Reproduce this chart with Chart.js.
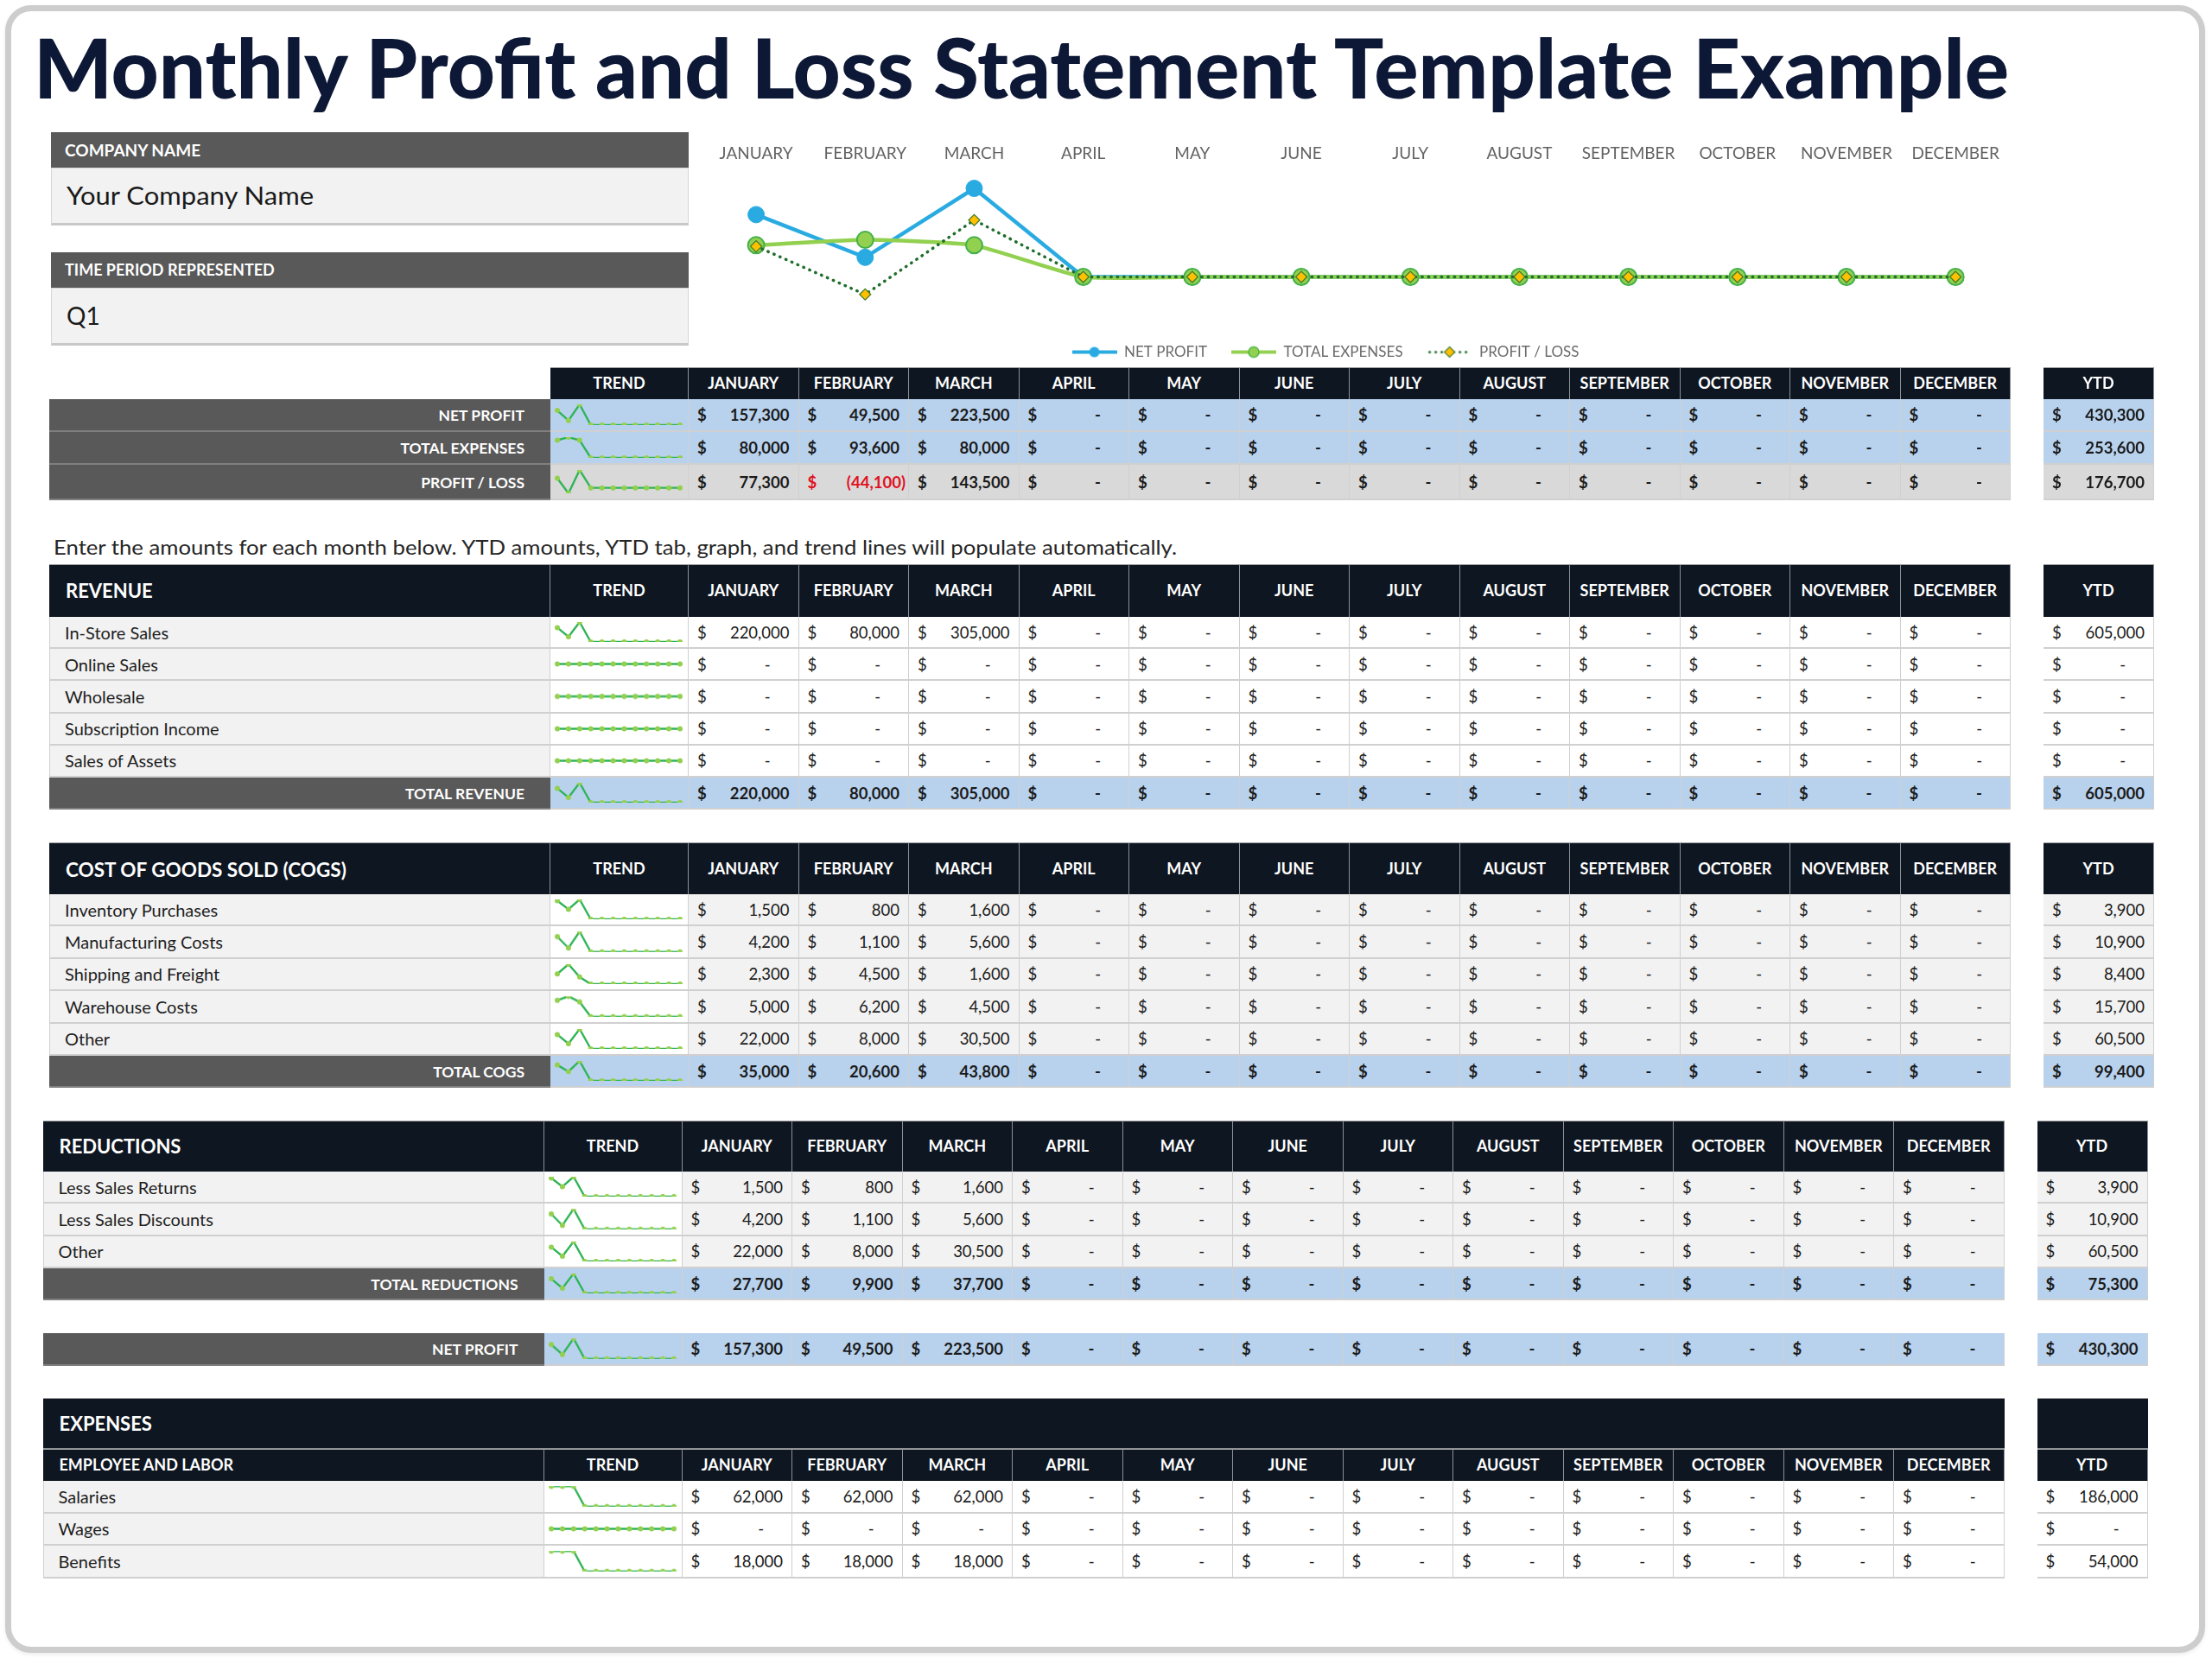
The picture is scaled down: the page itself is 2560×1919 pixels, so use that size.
<!DOCTYPE html>
<html><head><meta charset="utf-8">
<script src="https://cdn.jsdelivr.net/npm/chart.js@4.4.0/dist/chart.umd.min.js"></script>
<style>
html,body{margin:0;padding:0;background:#fff;}
#root{position:relative;width:2560px;height:1919px;overflow:hidden;font-family:Lato,'Open Sans',sans-serif;}
.t{position:absolute;white-space:nowrap;top:50%;transform:translateY(-50%);line-height:1.2;}
</style></head><body><div id="root"></div>
<script>
// ---------- DATA ----------
const MONTHS = ['JANUARY','FEBRUARY','MARCH','APRIL','MAY','JUNE','JULY','AUGUST','SEPTEMBER','OCTOBER','NOVEMBER','DECEMBER'];
const SERIES_NAMES = ['NET PROFIT','TOTAL EXPENSES','PROFIT / LOSS'];
const NET_PROFIT     = [157300, 49500, 223500, 0, 0, 0, 0, 0, 0, 0, 0, 0];
const TOTAL_EXPENSES = [80000, 93600, 80000, 0, 0, 0, 0, 0, 0, 0, 0, 0];
const PROFIT_LOSS    = [77300, -44100, 143500, 0, 0, 0, 0, 0, 0, 0, 0, 0];
const SUMMARY_YTD    = [430300, 253600, 176700];

const REV_LABELS = ['In-Store Sales','Online Sales','Wholesale','Subscription Income','Sales of Assets','TOTAL REVENUE'];
const REV_VALUES = [
  [220000, 80000, 305000, 0, 0, 0, 0, 0, 0, 0, 0, 0],
  [0, 0, 0, 0, 0, 0, 0, 0, 0, 0, 0, 0],
  [0, 0, 0, 0, 0, 0, 0, 0, 0, 0, 0, 0],
  [0, 0, 0, 0, 0, 0, 0, 0, 0, 0, 0, 0],
  [0, 0, 0, 0, 0, 0, 0, 0, 0, 0, 0, 0],
  [220000, 80000, 305000, 0, 0, 0, 0, 0, 0, 0, 0, 0]
];
const REV_YTD = [605000, 0, 0, 0, 0, 605000];

const COGS_LABELS = ['Inventory Purchases','Manufacturing Costs','Shipping and Freight','Warehouse Costs','Other','TOTAL COGS'];
const COGS_VALUES = [
  [1500, 800, 1600, 0, 0, 0, 0, 0, 0, 0, 0, 0],
  [4200, 1100, 5600, 0, 0, 0, 0, 0, 0, 0, 0, 0],
  [2300, 4500, 1600, 0, 0, 0, 0, 0, 0, 0, 0, 0],
  [5000, 6200, 4500, 0, 0, 0, 0, 0, 0, 0, 0, 0],
  [22000, 8000, 30500, 0, 0, 0, 0, 0, 0, 0, 0, 0],
  [35000, 20600, 43800, 0, 0, 0, 0, 0, 0, 0, 0, 0]
];
const COGS_YTD = [3900, 10900, 8400, 15700, 60500, 99400];

const RED_LABELS = ['Less Sales Returns','Less Sales Discounts','Other','TOTAL REDUCTIONS'];
const RED_VALUES = [
  [1500, 800, 1600, 0, 0, 0, 0, 0, 0, 0, 0, 0],
  [4200, 1100, 5600, 0, 0, 0, 0, 0, 0, 0, 0, 0],
  [22000, 8000, 30500, 0, 0, 0, 0, 0, 0, 0, 0, 0],
  [27700, 9900, 37700, 0, 0, 0, 0, 0, 0, 0, 0, 0]
];
const RED_YTD = [3900, 10900, 60500, 75300];

const NET_PROFIT_YTD = 430300;

const EMP_LABELS = ['Salaries','Wages','Benefits'];
const EMP_VALUES = [
  [62000, 62000, 62000, 0, 0, 0, 0, 0, 0, 0, 0, 0],
  [0, 0, 0, 0, 0, 0, 0, 0, 0, 0, 0, 0],
  [18000, 18000, 18000, 0, 0, 0, 0, 0, 0, 0, 0, 0]
];
const EMP_YTD = [186000, 0, 54000];

// ---------- STYLE ----------
const NAVY = '#0e1621', DGRAY = '#595959', BLUE = '#b8d2ee', LGRAY = '#f2f2f2', PGRAY = '#d9d9d9', LINE = '#d0d0d0';
const SPARK_LINE = '#30b458', SPARK_PT = '#94d04f';
const LBL_X = 57, LBL_W = 580, TR_X = 637, TR_W = 160, M_X = 797, M_W = 127.5, YTD_X = 2365, YTD_W = 128;

const root = document.getElementById('root');
function box(x, y, w, h, css){
  const d = document.createElement('div');
  d.style.cssText = `position:absolute;left:${x}px;top:${y}px;width:${w}px;height:${h}px;box-sizing:border-box;` + (css || '');
  root.appendChild(d); return d;
}
function text(parent, s, css){
  const e = document.createElement('span'); e.className = 't'; e.textContent = s;
  e.style.cssText = css || ''; parent.appendChild(e); return e;
}
function fit(el, w, base){
  const r = el.getBoundingClientRect().width;
  if (r > 0){ el.style.transformOrigin = 'left center'; el.style.transform = (base || '') + ` scaleX(${w / r})`; }
}
function fmt(v){ return v.toLocaleString('en-US'); }

function money(x, y, w, h, v, bold, bg){
  const c = box(x, y, w, h, `background:${bg};border-right:1px solid ${LINE};border-bottom:2px solid ${LINE};font-size:18.5px;font-weight:${bold ? 700 : 400};`);
  const neg = v < 0, col = neg ? '#e0111f' : '#1b1b1b';
  text(c, '$', `left:10px;color:${col};`);
  let s, pr;
  if (v === 0){ s = '-'; pr = 32; } else if (neg){ s = '(' + fmt(-v) + ')'; pr = 3; } else { s = fmt(v); pr = 10; }
  text(c, s, `right:${pr}px;color:${col};`);
}
function hcell(x, y, w, h, s){
  const c = box(x, y, w, h, `background:${NAVY};border-right:1px solid #8d9096;border-top:1px solid #a0a0a0;`);
  text(c, s, 'left:0;right:0;text-align:center;color:#fff;font-weight:700;font-size:18px;');
}
function headerRow(dx, y, h, title, tsize){
  if (title){
    const c = box(LBL_X + dx, y, LBL_W, h, `background:${NAVY};border-right:1px solid #8d9096;border-top:1px solid #a0a0a0;`);
    text(c, title, `left:19px;color:#fff;font-weight:700;font-size:${tsize}px;`);
  }
  hcell(TR_X + dx, y, TR_W, h, 'TREND');
  MONTHS.forEach((m, i) => hcell(M_X + dx + i * M_W, y, M_W, h, m));
  hcell(YTD_X + dx, y, YTD_W, h, 'YTD');
}
function spark(parent, vals, w, h){
  const cv = document.createElement('canvas');
  cv.width = w; cv.height = h;
  cv.style.cssText = `position:absolute;left:0;top:0;width:${w}px;height:${h}px;`;
  parent.appendChild(cv);
  let lo = Math.min(...vals), hi = Math.max(...vals);
  if (lo === hi){ lo -= 1; hi += 1; }
  new Chart(cv, {
    type: 'line',
    data: { labels: MONTHS, datasets: [{ data: vals, borderColor: SPARK_LINE, borderWidth: 2.4, pointRadius: 3, pointBackgroundColor: SPARK_PT, pointBorderWidth: 0, tension: 0 }] },
    options: { responsive: false, animation: false, events: [], devicePixelRatio: 1,
      layout: { autoPadding: false, padding: { left: 8, right: 9, top: 6, bottom: 6 } },
      plugins: { legend: { display: false }, tooltip: { enabled: false } },
      scales: { x: { display: false }, y: { display: false, min: lo, max: hi } } }
  });
}
function dataRow(dx, y, h, label, vals, ytd, total, valBg, trendBg){
  const lc = box(LBL_X + dx, y, LBL_W, h, total ? `background:${DGRAY};border-bottom:2px solid #7f7f7f;` : `background:${LGRAY};border-bottom:2px solid ${LINE};border-left:1px solid ${LINE};border-right:1px solid ${LINE};`);
  text(lc, label, total ? 'right:30px;color:#fff;font-weight:700;font-size:17.5px;' : 'left:17px;color:#1e1e1e;font-size:20px;');
  const tc = box(TR_X + dx, y, TR_W, h, `background:${trendBg};border-bottom:2px solid ${LINE};border-right:1px solid ${LINE};`);
  spark(tc, vals, TR_W - 1, h - 2);
  vals.forEach((v, i) => money(M_X + dx + i * M_W, y, M_W, h, v, total, valBg));
  money(YTD_X + dx, y, YTD_W, h, ytd, total, valBg);
}

// ---------- FRAME & TITLE ----------
box(6, 6, 2546, 1907, 'border:7px solid #cdcdcd;border-radius:30px;background:#fff;box-shadow:0 2px 4px rgba(0,0,0,0.08);');
const title = document.createElement('div');
title.textContent = 'Monthly Profit and Loss Statement Template Example';
title.style.cssText = 'position:absolute;left:39px;top:29px;font-size:96px;font-weight:900;line-height:1;color:#0c1836;white-space:nowrap;';
root.appendChild(title);
fit(title, 2286);

// ---------- COMPANY BLOCK ----------
let c = box(59, 153, 738, 41, `background:${DGRAY};`);
text(c, 'COMPANY NAME', 'left:16px;color:#fff;font-weight:700;font-size:19px;');
c = box(59, 194, 738, 67, `background:${LGRAY};border:1px solid #d6d6d6;border-bottom:3px solid #c8c8c8;`);
fit(text(c, 'Your Company Name', 'left:17px;color:#1a1a1a;font-size:28px;'), 286, 'translateY(-50%)');
c = box(59, 292, 738, 41, `background:${DGRAY};`);
text(c, 'TIME PERIOD REPRESENTED', 'left:16px;color:#fff;font-weight:700;font-size:18px;');
c = box(59, 333, 738, 67, `background:${LGRAY};border:1px solid #d6d6d6;border-bottom:3px solid #c8c8c8;`);
text(c, 'Q1', 'left:17px;color:#1a1a1a;font-size:28px;');

// ---------- MAIN CHART ----------
function legendIcon(kind){
  const cv = document.createElement('canvas'); cv.width = 52; cv.height = 20;
  const g = cv.getContext('2d');
  g.lineCap = 'round';
  if (kind === 0){
    g.strokeStyle = '#29abe2'; g.lineWidth = 4; g.beginPath(); g.moveTo(1, 10); g.lineTo(51, 10); g.stroke();
    g.fillStyle = '#29abe2'; g.beginPath(); g.arc(26, 10, 6, 0, Math.PI * 2); g.fill();
  } else if (kind === 1){
    g.strokeStyle = '#92d050'; g.lineWidth = 4; g.beginPath(); g.moveTo(1, 10); g.lineTo(51, 10); g.stroke();
    g.fillStyle = '#92d050'; g.strokeStyle = '#4cb848'; g.lineWidth = 1.5; g.beginPath(); g.arc(26, 10, 6, 0, Math.PI * 2); g.fill(); g.stroke();
  } else {
    g.fillStyle = '#1f6e2b';
    for (let x = 3; x < 52; x += 7){ g.beginPath(); g.arc(x, 10, 1.6, 0, Math.PI * 2); g.fill(); }
    g.fillStyle = '#ffc000'; g.strokeStyle = '#3f7a2a'; g.lineWidth = 1.2;
    g.beginPath(); g.moveTo(26, 4); g.lineTo(32, 10); g.lineTo(26, 16); g.lineTo(20, 10); g.closePath(); g.fill(); g.stroke();
  }
  return cv;
}
const ICONS = [legendIcon(0), legendIcon(1), legendIcon(2)];
const chartBox = box(812, 148, 1520, 278, '');
const mainCv = document.createElement('canvas'); chartBox.appendChild(mainCv);
new Chart(mainCv, {
  type: 'line',
  data: { labels: MONTHS, datasets: [
    { label: SERIES_NAMES[0], data: NET_PROFIT, order: 3, borderColor: '#29abe2', borderWidth: 4.5, pointRadius: 9.5, pointBackgroundColor: '#29abe2', pointBorderColor: '#29abe2', pointBorderWidth: 1, tension: 0 },
    { label: SERIES_NAMES[1], data: TOTAL_EXPENSES, order: 2, borderColor: '#92d050', borderWidth: 4.5, pointRadius: 9.5, pointBackgroundColor: '#92d050', pointBorderColor: '#45b04a', pointBorderWidth: 2, tension: 0.15 },
    { label: SERIES_NAMES[2], data: PROFIT_LOSS, order: 1, borderColor: '#1f6e2b', borderWidth: 3.5, borderDash: [0.5, 7], borderCapStyle: 'round', pointStyle: 'rectRot', pointRadius: 6.5, pointBackgroundColor: '#ffc000', pointBorderColor: '#3f7a2a', pointBorderWidth: 1.2, tension: 0 }
  ] },
  options: {
    responsive: true, maintainAspectRatio: false, animation: false, events: [],
    layout: { autoPadding: false, padding: 0 },
    plugins: {
      tooltip: { enabled: false },
      legend: { position: 'bottom', labels: { usePointStyle: true, pointStyleWidth: 52, padding: 28, color: '#6b6b6b', font: { family: 'Lato', size: 17 },
        generateLabels: (ch) => ch.data.datasets.map((ds, i) => ({ text: ds.label, pointStyle: ICONS[i], fillStyle: ds.borderColor, strokeStyle: ds.borderColor, lineWidth: 0, hidden: false, datasetIndex: i, fontColor: '#6b6b6b' })) } }
    },
    scales: {
      x: { position: 'top', offset: true, grid: { display: false, drawTicks: false }, border: { display: false },
           ticks: { color: '#636363', font: { family: 'Lato', size: 19 }, padding: 18, maxRotation: 0, autoSkip: false } },
      y: { display: false, min: -110000, max: 248000 }
    }
  },
  plugins: [{ id: 'shiftLegend', afterLayout(ch){ if (ch.legend){ ch.legend.left -= 38; ch.legend.right -= 38; } } }]
});

// ---------- SUMMARY TABLE ----------
headerRow(0, 425, 37, null);
const SUM_ROWS = [NET_PROFIT, TOTAL_EXPENSES, PROFIT_LOSS];
const SUM_Y = [462, 500, 538], SUM_H = [38, 38, 41];
SUM_ROWS.forEach((vals, i) => {
  const bg = i < 2 ? BLUE : PGRAY;
  dataRow(0, SUM_Y[i], SUM_H[i], SERIES_NAMES[i], vals, SUMMARY_YTD[i], true, bg, bg);
});

// ---------- INSTRUCTION ----------
const ins = document.createElement('div');
ins.textContent = 'Enter the amounts for each month below. YTD amounts, YTD tab, graph, and trend lines will populate automatically.';
ins.style.cssText = 'position:absolute;left:62px;top:618px;font-size:24px;line-height:30px;color:#262626;white-space:nowrap;';
root.appendChild(ins); fit(ins, 1300);

// ---------- REVENUE ----------
headerRow(0, 653, 61, 'REVENUE', 22);
REV_LABELS.forEach((l, i) => {
  const tot = i === REV_LABELS.length - 1;
  dataRow(0, 714 + i * 37.2, 37.2, l, REV_VALUES[i], REV_YTD[i], tot, tot ? BLUE : '#fff', tot ? BLUE : '#fff');
});

// ---------- COGS ----------
headerRow(0, 975, 60, 'COST OF GOODS SOLD (COGS)', 22.5);
COGS_LABELS.forEach((l, i) => {
  const tot = i === COGS_LABELS.length - 1;
  dataRow(0, 1035 + i * 37.4, 37.4, l, COGS_VALUES[i], COGS_YTD[i], tot, tot ? BLUE : LGRAY, tot ? BLUE : '#fff');
});

// ---------- REDUCTIONS ----------
const DX = -7.5;
headerRow(DX, 1297, 59, 'REDUCTIONS', 22);
RED_LABELS.forEach((l, i) => {
  const tot = i === RED_LABELS.length - 1;
  dataRow(DX, 1356 + i * 37.3, 37.3, l, RED_VALUES[i], RED_YTD[i], tot, tot ? BLUE : LGRAY, tot ? BLUE : '#fff');
});

// ---------- NET PROFIT ----------
dataRow(DX, 1543, 37.5, 'NET PROFIT', NET_PROFIT, NET_PROFIT_YTD, true, BLUE, BLUE);

// ---------- EXPENSES ----------
c = box(LBL_X + DX, 1618, M_X + 12 * M_W - LBL_X, 59, `background:${NAVY};border-top:1px solid #a0a0a0;border-bottom:1px solid #8d9096;`);
text(c, 'EXPENSES', 'left:19px;color:#fff;font-weight:700;font-size:22px;');
box(YTD_X + DX, 1618, YTD_W, 59, `background:${NAVY};border-top:1px solid #a0a0a0;border-bottom:1px solid #8d9096;`);
headerRow(DX, 1677, 37, 'EMPLOYEE AND LABOR', 18);
EMP_LABELS.forEach((l, i) => {
  dataRow(DX, 1714 + i * 37.6, 37.6, l, EMP_VALUES[i], EMP_YTD[i], false, '#fff', '#fff');
});
</script></body></html>
